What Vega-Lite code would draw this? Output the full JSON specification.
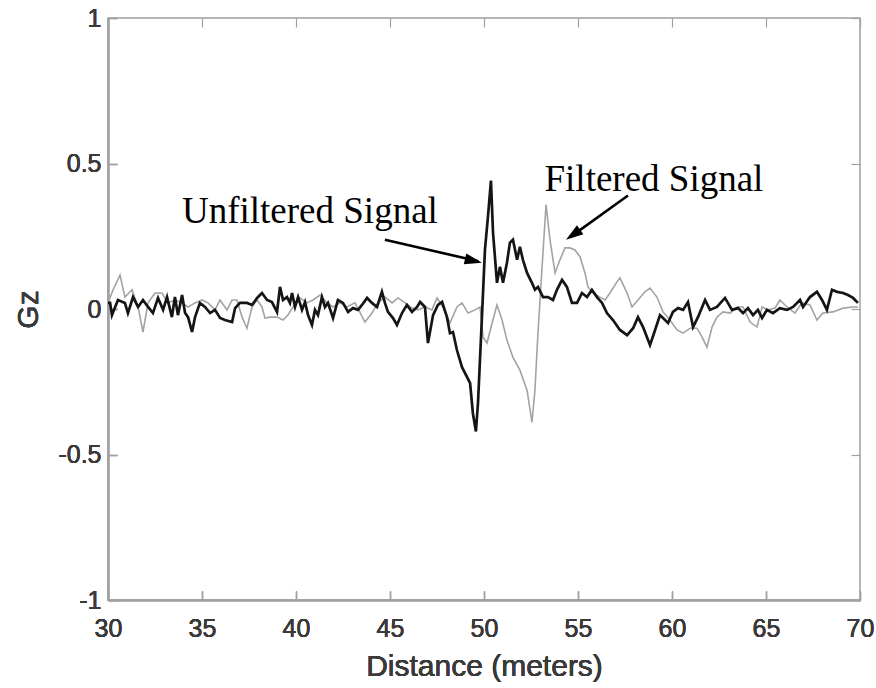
{
  "$schema": "https://vega.github.io/schema/vega-lite/v6.json",
  "width": 752,
  "height": 582,
  "autosize": "none",
  "padding": {"left": 108, "top": 18, "right": 16, "bottom": 88},
  "background": "white",
  "config": {
    "view": {"stroke": "#a0a0a0", "strokeWidth": 1.5},
    "axis": {
      "grid": false,
      "domainColor": "#a0a0a0",
      "domainWidth": 1.5,
      "tickColor": "#a0a0a0",
      "tickWidth": 1.2,
      "labelFont": "Liberation Sans",
      "labelColor": "#3a3a3a",
      "labelFontSize": 25,
      "titleFont": "Liberation Sans",
      "titleColor": "#3a3a3a",
      "titleFontSize": 30,
      "titleFontWeight": "normal"
    }
  },
  "datasets": {
    "unfiltered": [
      {"d":30.00,"g":0.021},{"d":30.11,"g":0.021},{"d":30.21,"g":-0.021},{"d":30.53,"g":0.031},{"d":30.90,"g":0.021},{"d":31.06,"g":-0.014},{"d":31.33,"g":0.041},{"d":31.60,"g":0.007},{"d":31.86,"g":0.031},{"d":32.13,"g":0.007},{"d":32.39,"g":-0.014},{"d":32.66,"g":0.038},{"d":32.93,"g":-0.003},{"d":33.14,"g":0.041},{"d":33.40,"g":-0.028},{"d":33.56,"g":0.041},{"d":33.72,"g":-0.021},{"d":33.94,"g":0.048},{"d":34.10,"g":-0.014},{"d":34.26,"g":-0.028},{"d":34.47,"g":-0.079},{"d":34.63,"g":-0.028},{"d":34.89,"g":0.021},{"d":35.16,"g":0.007},{"d":35.43,"g":-0.014},{"d":35.69,"g":-0.003},{"d":35.96,"g":-0.031},{"d":36.22,"g":-0.038},{"d":36.60,"g":-0.045},{"d":36.76,"g":0.003},{"d":37.02,"g":0.021},{"d":37.39,"g":0.021},{"d":37.66,"g":0.014},{"d":37.93,"g":0.038},{"d":38.19,"g":0.055},{"d":38.46,"g":0.031},{"d":38.72,"g":0.024},{"d":38.99,"g":-0.010},{"d":39.15,"g":0.076},{"d":39.31,"g":0.031},{"d":39.52,"g":0.041},{"d":39.68,"g":0.021},{"d":39.79,"g":0.055},{"d":39.95,"g":0.007},{"d":40.11,"g":0.041},{"d":40.32,"g":-0.003},{"d":40.48,"g":0.024},{"d":40.64,"g":-0.021},{"d":40.85,"g":-0.055},{"d":41.01,"g":-0.003},{"d":41.17,"g":-0.021},{"d":41.38,"g":0.041},{"d":41.54,"g":0.007},{"d":41.70,"g":0.021},{"d":41.97,"g":-0.031},{"d":42.23,"g":0.031},{"d":42.50,"g":0.021},{"d":42.77,"g":-0.010},{"d":43.03,"g":0.003},{"d":43.30,"g":-0.003},{"d":43.51,"g":0.014},{"d":43.78,"g":0.038},{"d":44.04,"g":0.021},{"d":44.31,"g":0.007},{"d":44.57,"g":0.059},{"d":44.73,"g":0.021},{"d":44.89,"g":-0.010},{"d":45.16,"g":-0.031},{"d":45.37,"g":-0.055},{"d":45.64,"g":-0.014},{"d":45.90,"g":0.014},{"d":46.17,"g":-0.010},{"d":46.44,"g":0.007},{"d":46.60,"g":0.024},{"d":46.86,"g":0.007},{"d":47.02,"g":-0.117},{"d":47.29,"g":-0.021},{"d":47.55,"g":0.014},{"d":47.77,"g":0.024},{"d":48.03,"g":-0.028},{"d":48.19,"g":-0.083},{"d":48.35,"g":-0.079},{"d":48.56,"g":-0.141},{"d":48.83,"g":-0.200},{"d":49.10,"g":-0.234},{"d":49.26,"g":-0.255},{"d":49.41,"g":-0.359},{"d":49.57,"g":-0.421},{"d":49.68,"g":-0.324},{"d":49.89,"g":-0.028},{"d":50.05,"g":0.203},{"d":50.21,"g":0.317},{"d":50.37,"g":0.441},{"d":50.48,"g":0.262},{"d":50.69,"g":0.090},{"d":50.85,"g":0.145},{"d":51.01,"g":0.090},{"d":51.22,"g":0.159},{"d":51.38,"g":0.228},{"d":51.54,"g":0.238},{"d":51.76,"g":0.169},{"d":51.91,"g":0.214},{"d":52.07,"g":0.169},{"d":52.29,"g":0.124},{"d":52.55,"g":0.090},{"d":52.71,"g":0.066},{"d":52.87,"g":0.076},{"d":53.14,"g":0.041},{"d":53.40,"g":0.041},{"d":53.67,"g":0.031},{"d":53.88,"g":0.066},{"d":54.15,"g":0.100},{"d":54.41,"g":0.076},{"d":54.68,"g":0.021},{"d":54.95,"g":0.021},{"d":55.21,"g":0.055},{"d":55.48,"g":0.041},{"d":55.74,"g":0.066},{"d":56.01,"g":0.041},{"d":56.28,"g":0.021},{"d":56.54,"g":-0.014},{"d":56.86,"g":-0.038},{"d":57.23,"g":-0.072},{"d":57.61,"g":-0.090},{"d":57.93,"g":-0.066},{"d":58.19,"g":-0.028},{"d":58.46,"g":-0.062},{"d":58.83,"g":-0.124},{"d":59.10,"g":-0.072},{"d":59.36,"g":-0.021},{"d":59.63,"g":-0.038},{"d":59.79,"g":-0.048},{"d":60.05,"g":-0.010},{"d":60.32,"g":0.003},{"d":60.59,"g":-0.003},{"d":60.85,"g":0.024},{"d":61.12,"g":-0.062},{"d":61.38,"g":-0.028},{"d":61.76,"g":0.031},{"d":62.02,"g":-0.003},{"d":62.39,"g":0.007},{"d":62.82,"g":0.038},{"d":63.19,"g":-0.003},{"d":63.51,"g":0.003},{"d":63.78,"g":-0.014},{"d":64.04,"g":0.003},{"d":64.31,"g":-0.021},{"d":64.57,"g":-0.003},{"d":64.79,"g":-0.031},{"d":65.05,"g":-0.003},{"d":65.37,"g":-0.014},{"d":65.74,"g":0.003},{"d":66.12,"g":-0.003},{"d":66.44,"g":0.007},{"d":66.81,"g":0.031},{"d":66.97,"g":0.007},{"d":67.34,"g":0.041},{"d":67.71,"g":0.059},{"d":67.98,"g":0.031},{"d":68.24,"g":-0.003},{"d":68.51,"g":0.066},{"d":68.78,"g":0.059},{"d":69.10,"g":0.055},{"d":69.36,"g":0.048},{"d":69.63,"g":0.038},{"d":69.89,"g":0.021}
    ],
    "filtered": [
      {"d":30.00,"g":0.021},{"d":30.27,"g":0.066},{"d":30.64,"g":0.117},{"d":30.90,"g":0.041},{"d":31.28,"g":0.066},{"d":31.60,"g":0.007},{"d":31.86,"g":-0.079},{"d":32.13,"g":0.021},{"d":32.50,"g":0.055},{"d":32.87,"g":0.055},{"d":33.19,"g":0.021},{"d":33.56,"g":0.031},{"d":33.94,"g":0.021},{"d":34.26,"g":0.007},{"d":34.63,"g":0.021},{"d":35.00,"g":0.031},{"d":35.32,"g":0.021},{"d":35.69,"g":-0.003},{"d":35.96,"g":0.031},{"d":36.33,"g":-0.003},{"d":36.60,"g":0.031},{"d":36.86,"g":0.031},{"d":37.13,"g":-0.028},{"d":37.39,"g":-0.066},{"d":37.66,"g":0.007},{"d":37.93,"g":0.031},{"d":38.19,"g":0.007},{"d":38.35,"g":-0.031},{"d":38.62,"g":-0.028},{"d":38.99,"g":-0.028},{"d":39.31,"g":-0.038},{"d":39.57,"g":-0.021},{"d":39.84,"g":0.007},{"d":40.21,"g":0.038},{"d":40.59,"g":0.021},{"d":40.90,"g":0.031},{"d":41.28,"g":0.048},{"d":41.65,"g":0.021},{"d":41.97,"g":0.007},{"d":42.34,"g":0.021},{"d":42.71,"g":0.007},{"d":43.14,"g":0.021},{"d":43.67,"g":-0.045},{"d":44.04,"g":-0.014},{"d":44.36,"g":0.021},{"d":44.73,"g":0.041},{"d":45.11,"g":0.021},{"d":45.43,"g":0.038},{"d":45.80,"g":0.021},{"d":46.17,"g":0.003},{"d":46.49,"g":-0.003},{"d":46.86,"g":0.007},{"d":47.23,"g":-0.003},{"d":47.50,"g":0.038},{"d":47.82,"g":0.007},{"d":48.19,"g":-0.048},{"d":48.56,"g":0.007},{"d":48.83,"g":0.021},{"d":49.15,"g":-0.014},{"d":49.52,"g":-0.003},{"d":49.79,"g":0.007},{"d":49.95,"g":-0.097},{"d":50.16,"g":-0.117},{"d":50.43,"g":-0.048},{"d":50.69,"g":0.014},{"d":50.96,"g":-0.038},{"d":51.22,"g":-0.107},{"d":51.54,"g":-0.166},{"d":51.91,"g":-0.210},{"d":52.29,"g":-0.279},{"d":52.55,"g":-0.390},{"d":52.71,"g":-0.279},{"d":52.87,"g":-0.083},{"d":53.09,"g":0.145},{"d":53.30,"g":0.359},{"d":53.51,"g":0.238},{"d":53.78,"g":0.124},{"d":54.04,"g":0.169},{"d":54.31,"g":0.210},{"d":54.57,"g":0.210},{"d":54.84,"g":0.203},{"d":55.11,"g":0.179},{"d":55.37,"g":0.124},{"d":55.53,"g":0.076},{"d":55.80,"g":0.055},{"d":56.17,"g":0.041},{"d":56.44,"g":0.031},{"d":56.70,"g":0.055},{"d":57.07,"g":0.093},{"d":57.23,"g":0.107},{"d":57.61,"g":0.055},{"d":57.87,"g":0.007},{"d":58.19,"g":0.031},{"d":58.56,"g":0.059},{"d":58.83,"g":0.072},{"d":59.20,"g":0.041},{"d":59.52,"g":-0.010},{"d":59.89,"g":-0.038},{"d":60.27,"g":-0.072},{"d":60.59,"g":-0.083},{"d":60.96,"g":-0.066},{"d":61.33,"g":-0.066},{"d":61.60,"g":-0.097},{"d":61.86,"g":-0.131},{"d":62.13,"g":-0.062},{"d":62.39,"g":-0.028},{"d":62.71,"g":-0.010},{"d":63.09,"g":-0.014},{"d":63.46,"g":0.007},{"d":63.78,"g":0.007},{"d":64.15,"g":-0.045},{"d":64.52,"g":-0.062},{"d":64.79,"g":0.007},{"d":65.11,"g":-0.003},{"d":65.48,"g":0.003},{"d":65.74,"g":0.031},{"d":66.12,"g":0.007},{"d":66.54,"g":-0.014},{"d":66.91,"g":0.021},{"d":67.34,"g":0.014},{"d":67.71,"g":-0.038},{"d":68.03,"g":-0.014},{"d":68.56,"g":-0.010},{"d":69.10,"g":0.003},{"d":69.63,"g":0.007},{"d":69.89,"g":0.007}
    ],
    "labels": [
      {"d":40.74,"g":0.334,"t":"Unfiltered Signal"},
      {"d":59.04,"g":0.445,"t":"Filtered Signal"}
    ],
    "arrows": [
      {"d":44.73,"g":0.238,"d2":49.70,"g2":0.164},
      {"d":57.66,"g":0.390,"d2":54.60,"g2":0.248}
    ]
  },
  "encoding": {
    "x": {"field": "d", "type": "quantitative",
      "scale": {"domain": [30, 70], "nice": false, "zero": false},
      "axis": {"orient": "bottom", "values": [30,35,40,45,50,55,60,65,70], "format": "d",
        "tickSize": -9, "labelPadding": 25, "title": "Distance (meters)", "titlePadding": 10, "labelFlush": false}},
    "y": {"field": "g", "type": "quantitative",
      "scale": {"domain": [-1, 1], "nice": false, "zero": false},
      "axis": {"orient": "left", "values": [-1,-0.5,0,0.5,1],
        "labelExpr": "datum.value < 0 ? '-' + format(-datum.value, '~g') : format(datum.value, '~g')",
        "tickSize": -9, "labelPadding": 16, "title": "Gz", "titlePadding": 14, "labelFlush": false}}
  },
  "layer": [
    {
      "data": {"name": "filtered"},
      "mark": {"type": "line", "color": "#a3a3a3", "strokeWidth": 1.6, "clip": true}
    },
    {
      "data": {"name": "unfiltered"},
      "mark": {"type": "line", "color": "#151515", "strokeWidth": 2.7, "clip": true}
    },
    {
      "data": {"name": "labels"},
      "mark": {"type": "text", "font": "Liberation Serif", "fontSize": 37, "color": "#000000", "align": "center", "baseline": "middle"},
      "encoding": {"text": {"field": "t"}}
    },
    {
      "data": {"name": "arrows"},
      "mark": {"type": "rule", "color": "#000000", "strokeWidth": 2.6},
      "encoding": {"x2": {"field": "d2"}, "y2": {"field": "g2"}}
    },
    {
      "data": {"values": [{"d": 49.89, "g": 0.159}]},
      "mark": {"type": "point", "shape": "M0,0L0.32,1L-0.32,1Z", "size": 1200, "angle": 103, "filled": true, "color": "#000000", "opacity": 1}
    },
    {
      "data": {"values": [{"d": 54.36, "g": 0.238}]},
      "mark": {"type": "point", "shape": "M0,0L0.32,1L-0.32,1Z", "size": 1200, "angle": 235, "filled": true, "color": "#000000", "opacity": 1},
      "encoding": {
        "x": {"field": "d", "type": "quantitative",
          "axis": {"orient": "top", "values": [30,35,40,45,50,55,60,65,70], "labels": false, "title": null, "tickSize": -9, "domain": false}},
        "y": {"field": "g", "type": "quantitative",
          "axis": {"orient": "right", "values": [-1,-0.5,0,0.5,1], "labels": false, "title": null, "tickSize": -9, "domain": false}}
      }
    }
  ]
}
